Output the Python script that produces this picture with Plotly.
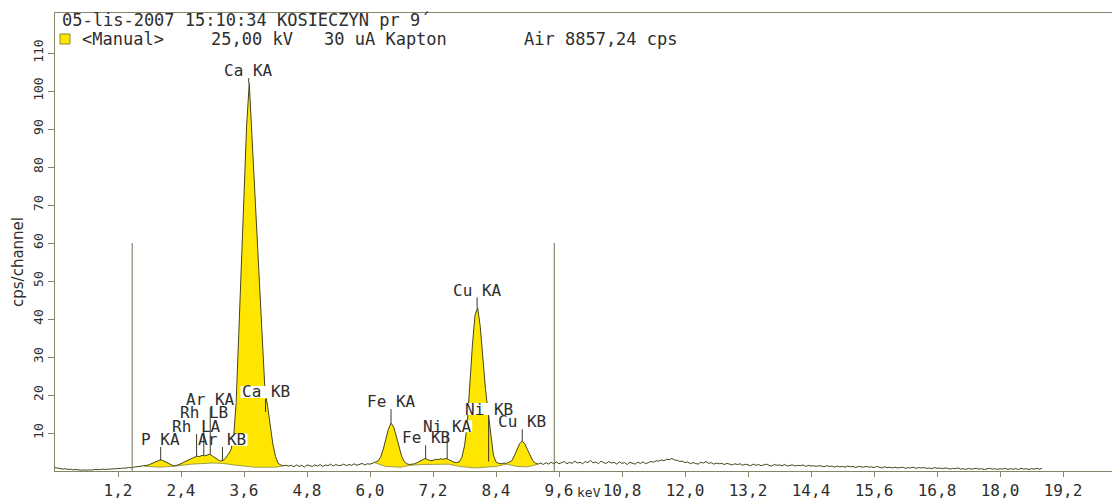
import numpy as np
import plotly.graph_objects as go

# ---------------- data ----------------
# channel energies (keV): 0.05 keV channels
energy_low = np.round(np.arange(0.0, 10.0, 0.05), 2)
energy_high = np.round(np.arange(10.0, 18.825, 0.05), 2)

counts_low = [
    0.9, 0.7, 0.6, 0.5, 0.6, 0.4, 0.5, 0.3, 0.4, 0.3,
    0.2, 0.3, 0.2, 0.3, 0.25, 0.4, 0.3, 0.35, 0.5, 0.4,
    0.5, 0.45, 0.6, 0.55, 0.7, 0.65, 0.8, 0.75, 0.9, 0.85,
    1.0, 1.1, 1.05, 1.2, 1.3, 1.5, 1.7, 2.0, 2.4, 2.7,
    2.9, 2.8, 2.4, 2.0, 1.6, 1.4, 1.4, 1.6, 1.9, 2.3,
    2.6, 2.9, 3.3, 3.5, 3.9, 3.8, 4.1, 4.0, 4.3, 4.4,
    3.9, 3.4, 2.9, 2.6, 2.8, 3.4, 4.4, 5.5, 8.5, 18,
    36, 54, 73, 91, 102, 88, 73, 59, 46, 34,
    21, 17, 11.5, 7, 3.8, 2.0, 1.6, 1.4, 1.5, 1.3,
    1.5, 1.1, 1.6, 1.2, 1.5, 1.0, 1.6, 1.3, 1.2, 1.6,
    1.3, 1.7, 1.2, 1.6, 1.4, 1.8, 1.3, 1.7, 1.4, 1.5,
    1.8, 1.4, 1.7, 1.5, 1.9, 1.5, 1.8, 2.0, 1.6, 1.9,
    1.8, 2.0, 2.2, 2.6, 3.6, 5.6, 8.3, 11.0, 12.6, 11.6,
    9.2, 6.4, 4.0, 2.5, 1.9, 1.7, 1.8, 1.9, 2.2, 2.6,
    2.9, 3.3, 3.0, 2.7, 2.8, 3.1, 3.0, 3.2, 3.1, 3.3,
    3.0, 2.6, 2.3, 2.2, 2.4, 3.6, 6.6, 12, 23, 33,
    41, 43, 38, 29, 21.5, 15.5, 9, 4.2, 2.4, 2.0,
    1.9, 2.1, 2.0, 2.3, 2.7, 4.0, 5.8, 7.2, 7.9, 7.1,
    5.6, 3.9, 2.7, 2.1, 1.8, 2.1, 1.7, 2.2, 1.8, 2.3,
    1.9, 2.4, 1.9, 2.2, 2.5, 1.9, 2.3, 2.0, 2.6, 2.1,
]
counts_high = [
    2.3, 1.9, 2.5, 2.2, 2.8, 2.1, 2.4, 1.9, 2.6, 2.2,
    2.0, 2.5, 2.1, 2.3, 1.8, 2.4, 2.0, 2.2, 1.7, 2.3,
    2.1, 1.8, 2.3, 2.0, 2.4, 1.9, 2.2, 2.5, 2.3, 2.7,
    2.6, 2.9, 2.7, 3.1, 3.0, 3.3, 2.9, 2.8, 2.5, 2.6,
    2.2, 2.4, 1.9, 2.2, 2.0, 1.8, 2.3, 2.1, 2.5, 2.0,
    2.2, 1.8, 2.1, 1.9, 2.0, 1.7, 2.0, 1.8, 1.6, 1.9,
    1.7, 1.9, 1.5, 1.8, 1.6, 1.4, 1.8, 1.5, 1.7, 1.4,
    1.6, 1.8, 1.5, 1.3, 1.7, 1.5, 1.6, 1.4, 1.7, 1.3,
    1.5, 1.6, 1.3, 1.5, 1.4, 1.6, 1.2, 1.5, 1.3, 1.4,
    1.2, 1.4, 1.3, 1.1, 1.4, 1.2, 1.3, 1.0, 1.3, 1.1,
    1.2, 1.0, 1.3, 1.1, 1.2, 0.9, 1.2, 1.1, 1.0, 1.2,
    1.0, 1.1, 0.9, 1.2, 1.0, 0.8, 1.1, 0.9, 1.0, 0.8,
    1.0, 0.8, 0.9, 1.0, 0.7, 0.9, 0.8, 1.0, 0.7, 0.9,
    0.8, 0.9, 0.7, 0.8, 0.6, 0.9, 0.7, 0.8, 0.6, 0.8,
    0.7, 0.5, 0.7, 0.6, 0.8, 0.5, 0.6, 0.4, 0.7, 0.5,
    0.6, 0.7, 0.5, 0.6, 0.4, 0.6, 0.7, 0.5, 0.6, 0.4,
    0.6, 0.5, 0.7, 0.4, 0.6, 0.5, 0.6, 0.4, 0.7, 0.5,
    0.6, 0.4, 0.6, 0.5, 0.7, 0.5, 0.7,
]

# fitted continuum under the peak regions
bg1_energy = [1.70, 2.00, 2.30, 2.60, 3.00, 3.20, 3.40, 3.80, 4.20, 4.35]
bg1_counts = [1.25, 1.0, 1.3, 1.8, 2.1, 2.0, 1.6, 1.0, 1.0, 1.35]
bg2_energy = [6.10, 6.30, 6.60, 6.75, 7.00, 7.50, 7.70, 8.00, 8.40, 8.60, 8.80, 9.00, 9.20]
bg2_counts = [2.1, 1.2, 1.0, 1.5, 1.7, 1.8, 1.2, 0.8, 1.2, 1.8, 1.2, 1.1, 1.75]

# ROI markers
roi_energy = [1.47, 9.51]
roi_height = 60

# peak identification labels
peak_names = ["P KA", "Rh LA", "Rh LB", "Ar KA", "Ar KB", "Ca KA", "Ca KB",
              "Fe KA", "Fe KB", "Ni KA", "Cu KA", "Ni KB", "Cu KB"]
peak_energy = [2.013, 2.697, 2.834, 2.957, 3.19, 3.69, 4.01,
               6.40, 7.06, 7.47, 8.04, 8.26, 8.90]
peak_label_level = [8.2, 11.6, 15.3, 18.7, 8.2, 105.3, 20.8,
                    18.2, 8.7, 11.8, 47.6, 16.3, 12.9]
peak_tip_level = [2.9, 3.9, 4.1, 4.3, 2.8, 102, 15.5,
                  12.6, 3.2, 3.2, 43, 2.5, 7.9]

x_tick_values = [1.2, 2.4, 3.6, 4.8, 6.0, 7.2, 8.4, 9.6, 10.8, 12.0,
                 13.2, 14.4, 15.6, 16.8, 18.0, 19.2]
x_tick_text = ["1,2", "2,4", "3,6", "4,8", "6,0", "7,2", "8,4", "9,6", "10,8",
               "12,0", "13,2", "14,4", "15,6", "16,8", "18,0", "19,2"]
y_tick_values = [10, 20, 30, 40, 50, 60, 70, 80, 90, 100, 110]

header_line1 = "05-lis-2007 15:10:34 KOSIECZYN pr 9\u00b4"
header_items = ["<Manual>", "25,00 kV", "30 uA Kapton", "Air 8857,24 cps"]

# ---------------- styling ----------------
W, H = 1114, 500
ML, MR, MT, MB = 55, 2, 13, 29
PX_PER_KEV = 52.5
PX_PER_CPS = 3.8
plot_w = W - ML - MR
plot_h = H - MT - MB
x_max = plot_w / PX_PER_KEV
y_max = plot_h / PX_PER_CPS

LINE_COL = "#45451a"
AXIS_COL = "#85856a"
FILL_COL = "#ffe600"
TEXT_COL = "#2e2e2e"
MONO = "DejaVu Sans Mono"

def px_x(px):
    return (px - ML) / plot_w

def px_y(py):
    return (H - MB - py) / plot_h

energy = np.concatenate([energy_low, energy_high])
counts = np.array(counts_low + counts_high, dtype=float)

fig = go.Figure()

for be, bc in ((bg1_energy, bg1_counts), (bg2_energy, bg2_counts)):
    mask = (energy >= be[0] - 1e-9) & (energy <= be[-1] + 1e-9)
    fig.add_trace(go.Scatter(x=be, y=bc, mode="lines",
                             line=dict(color="#8a8a40", width=0.8),
                             hoverinfo="skip", showlegend=False))
    fig.add_trace(go.Scatter(x=energy[mask], y=counts[mask], mode="lines",
                             line=dict(width=0), fill="tonexty",
                             fillcolor=FILL_COL, hoverinfo="skip",
                             showlegend=False))

fig.add_trace(go.Scatter(x=energy, y=counts, mode="lines",
                         line=dict(color=LINE_COL, width=1),
                         showlegend=False))

roi_x, roi_y = [], []
for e in roi_energy:
    roi_x += [e, e, None]
    roi_y += [0, roi_height, None]
fig.add_trace(go.Scatter(x=roi_x, y=roi_y, mode="lines",
                         line=dict(color="#6f6f50", width=1),
                         hoverinfo="skip", showlegend=False))

shapes = []
annotations = []
# white label boxes
for name, e, lv in zip(peak_names, peak_energy, peak_label_level):
    w = len(name) * 9.6 + 2
    shapes.append(dict(type="rect", xref="x", yref="y", layer="above",
                       xsizemode="pixel", ysizemode="pixel",
                       xanchor=e, yanchor=lv, x0=-w / 2, x1=w / 2, y0=-6, y1=6,
                       fillcolor="white", line=dict(width=0)))
# marker lines
for e, lv, tip in zip(peak_energy, peak_label_level, peak_tip_level):
    shapes.append(dict(type="line", xref="x", yref="y", layer="above",
                       x0=e, x1=e, y0=lv - 1.9, y1=tip,
                       line=dict(color="#3a3a2a", width=1)))
for name, e, lv in zip(peak_names, peak_energy, peak_label_level):
    annotations.append(dict(x=e, y=lv, xref="x", yref="y", text=name,
                            showarrow=False, xanchor="center", yanchor="middle",
                            font=dict(family=MONO, size=16, color=TEXT_COL)))

# header
annotations.append(dict(x=px_x(60), y=px_y(20), xref="paper", yref="paper",
                        text=header_line1, showarrow=False, xanchor="left",
                        yanchor="middle",
                        font=dict(family=MONO, size=17, color=TEXT_COL)))
for item, xp in zip(header_items, [80, 209, 322, 522]):
    annotations.append(dict(x=px_x(xp), y=px_y(39), xref="paper", yref="paper",
                            text=item, showarrow=False, xanchor="left",
                            yanchor="middle",
                            font=dict(family=MONO, size=17, color=TEXT_COL)))
shapes.append(dict(type="rect", xref="paper", yref="paper",
                   x0=px_x(60), x1=px_x(70), y0=px_y(44), y1=px_y(34),
                   fillcolor=FILL_COL, line=dict(color="#8a8a30", width=1)))

# axis titles
annotations.append(dict(x=px_x(18), y=px_y(262), xref="paper", yref="paper",
                        text="cps/channel", textangle=-90, showarrow=False,
                        xanchor="center", yanchor="middle",
                        font=dict(family="DejaVu Sans", size=15, color=TEXT_COL)))
annotations.append(dict(x=px_x(589), y=px_y(492), xref="paper", yref="paper",
                        text="keV", showarrow=False,
                        xanchor="center", yanchor="middle",
                        font=dict(family=MONO, size=13, color=TEXT_COL)))

fig.update_layout(
    width=W, height=H,
    margin=dict(l=ML, r=MR, t=MT, b=MB, pad=0),
    paper_bgcolor="white", plot_bgcolor="white",
    showlegend=False,
    shapes=shapes, annotations=annotations,
    xaxis=dict(range=[0, x_max], showgrid=False, zeroline=False,
               automargin=False,
               showline=True, linecolor=AXIS_COL, linewidth=1, mirror=True,
               ticks="outside", ticklen=5, tickcolor=AXIS_COL,
               tickvals=x_tick_values, ticktext=x_tick_text,
               tickfont=dict(family=MONO, size=16, color=TEXT_COL)),
    yaxis=dict(range=[0, y_max], showgrid=False, zeroline=False,
               automargin=False,
               showline=True, linecolor=AXIS_COL, linewidth=1,
               ticks="outside", ticklen=6, tickcolor=AXIS_COL,
               tickvals=y_tick_values, tickangle=-90,
               tickfont=dict(family=MONO, size=13, color=TEXT_COL)),
)

fig.write_html("out.html",
               config={"displayModeBar": False},
               post_script="document.body.style.margin='0';"
                           "document.body.style.overflow='hidden';")
